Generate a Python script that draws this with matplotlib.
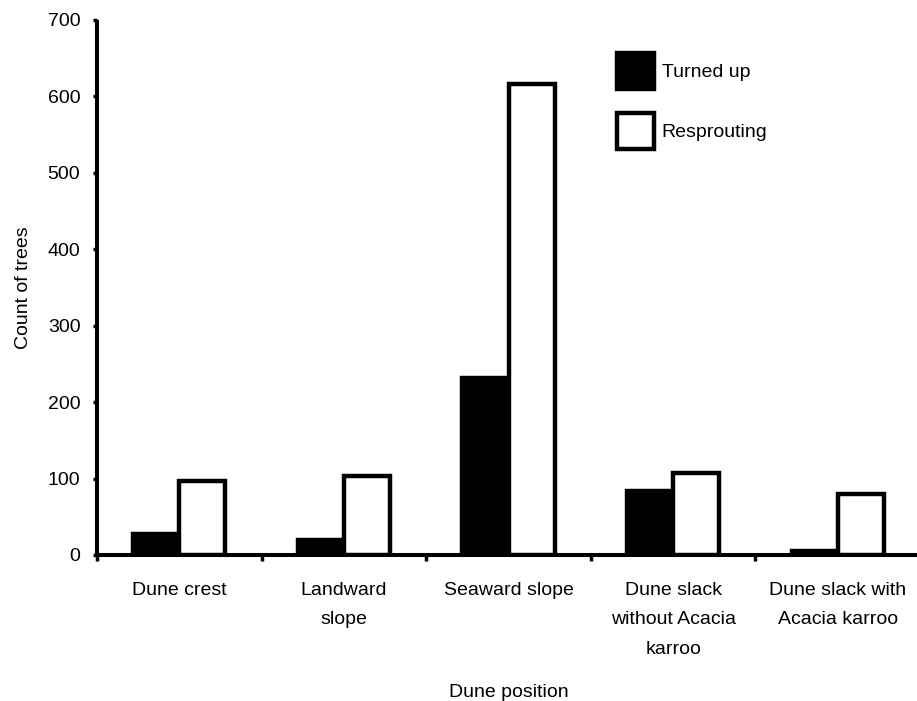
import numpy as np
import matplotlib.pyplot as plt

positions = ['Dune crest', 'Landward\nslope', 'Seaward slope',
             'Dune slack\nwithout Acacia\nkarroo', 'Dune slack with\nAcacia karroo']
turned_up = [28, 20, 232, 84, 5]
resprouting = [97, 103, 616, 107, 80]

plt.rcParams['font.family'] = ['Liberation Sans', 'DejaVu Sans']
fs = 14

fig = plt.figure(figsize=(9.17, 7.01), dpi=100)
ax = fig.add_axes([0.1058, 0.2083, 0.8975, 0.7632])

x = np.arange(len(positions))
w = 0.28
ax.bar(x - w / 2, turned_up, w, color='black', edgecolor='black', linewidth=3.2, label='Turned up')
ax.bar(x + w / 2, resprouting, w, color='white', edgecolor='black', linewidth=3.2, label='Resprouting')

ax.set_xlim(-0.5, len(positions) - 0.5)
ax.set_ylim(0, 700)
ax.set_yticks(range(0, 701, 100))
ax.set_xticks(x)
ax.set_xticklabels(positions, fontsize=fs, linespacing=1.95)
ax.set_xticks(np.arange(-0.5, len(positions)), minor=True)
ax.tick_params(axis='x', which='major', length=0, pad=19.5)
ax.tick_params(axis='x', which='minor', length=4, width=2.5, direction='out')
ax.tick_params(axis='y', length=3, width=2.5, labelsize=fs, pad=9)

for s in ['top', 'right']:
    ax.spines[s].set_visible(False)
for s in ['left', 'bottom']:
    ax.spines[s].set_linewidth(2.9)
    ax.spines[s].set_capstyle('butt')

ax.set_ylabel('Count of trees', fontsize=fs, labelpad=11)
ax.set_xlabel('Dune position', fontsize=fs, labelpad=19)

ax.legend(loc='upper left', bbox_to_anchor=(0.632, 0.938), frameon=False, fontsize=fs,
          handlelength=1.89, handleheight=2.45, labelspacing=1.24, handletextpad=0.4,
          borderpad=0, borderaxespad=0)

fig.savefig('out.png', dpi=100)
